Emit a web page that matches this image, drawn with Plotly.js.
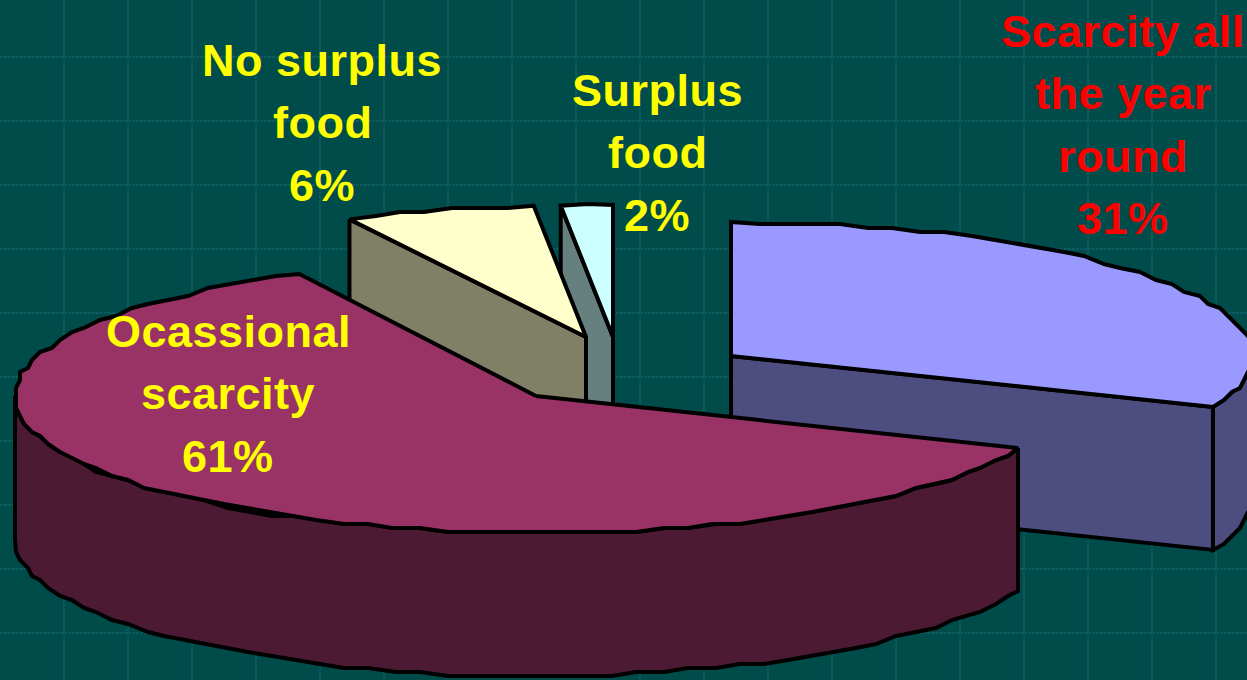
<!DOCTYPE html>
<html>
<head>
<meta charset="utf-8">
<script src="https://cdn.plot.ly/plotly-3.0.1.min.js"></script>
<style>
html,body{margin:0;padding:0;background:#004c4a;overflow:hidden}
#chart{width:1247px;height:680px}
.annotation-text{letter-spacing:0.5px;stroke-width:0.5px}
</style>
</head>
<body>
<div id="chart"></div>
<script>
// Data (clockwise from 12 o'clock)
const categories = ["Scarcity all the year round", "Ocassional scarcity", "No surplus food", "Surplus food"];
const shares = [31.2, 61.3, 5.9, 1.6];
const labelLines = [["Scarcity all", "the year", "round"], ["Ocassional", "scarcity"], ["No surplus", "food"], ["Surplus", "food"]];
const topColors = ["#9999ff", "#993366", "#ffffcc", "#ccffff"];
const wallColors = ["#4d4d80", "#4d1a33", "#808066", "#668080"];
const labelColors = ["#ff0000", "#ffff00", "#ffff00", "#ffff00"];

// Layout of the tilted, exploded pie (pixel-based axis units)
const centres = [[731, 356], [536, 396], [586, 337], [613, 337]];
const radiusX = 521, radiiY = [134, 137, 132, 132], depth = 143;
const labelPos = [[1123, 31], [228, 331], [322, 60], [657, 90]];
const lineStep = 62.5;
const drawOrder = [3, 2, 0, 1];

const total = shares.reduce((a, b) => a + b, 0);
const spans = [];
let running = 0;
shares.forEach(v => { const s = running; running += v; spans.push([s / total * 360, running / total * 360]); });

const rad = d => d * Math.PI / 180;
function pt(i, t, dy) {
  return [centres[i][0] + radiusX * Math.sin(rad(t)), centres[i][1] - radiiY[i] * Math.cos(rad(t)) + (dy || 0)];
}
// The original outline is a coarse, pixel-snapped polygon
function arc(i, t0, t1, dy) {
  const n = Math.max(1, Math.round(Math.abs(t1 - t0) / 3));
  const out = [];
  for (let k = 0; k <= n; k++) {
    const p = pt(i, t0 + (t1 - t0) * k / n, dy);
    if (k === 0 || k === n) out.push(p);
    else out.push([Math.round(p[0] / 4) * 4, Math.round(p[1] / 4) * 4]);
  }
  return out;
}
function poly(points, fill, width) {
  const xs = points.map(p => p[0]).concat(points[0][0]);
  const ys = points.map(p => p[1]).concat(points[0][1]);
  return {x: xs, y: ys, type: "scatter", mode: "lines", fill: "toself", fillcolor: fill,
    line: {color: "#000000", width: width || 4, shape: "linear"}, hoverinfo: "skip", showlegend: false};
}

const traces = [];
drawOrder.forEach(i => {
  const [a, b] = spans[i];
  const c = centres[i];
  const cBottom = [c[0], c[1] + depth];
  if (i === 0) {
    const e = pt(i, b), eb = pt(i, b, depth);
    traces.push(poly([c, e, eb, cBottom], wallColors[i]));
    traces.push(poly(arc(i, 90, b).concat(arc(i, b, 90, depth)), wallColors[i]));
  } else if (i === 1) {
    traces.push(poly(arc(i, a, 270).concat(arc(i, 270, a, depth)), wallColors[i]));
  } else {
    const s = pt(i, a), sb = pt(i, a, depth);
    traces.push(poly([s, c, cBottom, sb], wallColors[i]));
  }
  traces.push(poly([c].concat(arc(i, a, b)), topColors[i]));
});

const annotations = [];
categories.forEach((name, i) => {
  const lines = labelLines[i].concat(Math.round(shares[i]) + "%");
  lines.forEach((txt, k) => {
    annotations.push({x: labelPos[i][0], y: labelPos[i][1] + k * lineStep, xref: "x", yref: "y",
      text: "<b>" + txt + "</b>", showarrow: false, xanchor: "center", yanchor: "middle",
      font: {family: "Liberation Sans, Arial, sans-serif", size: 45, color: labelColors[i]}});
  });
});

const layout = {
  width: 1247, height: 680, margin: {l: 0, r: 0, t: 0, b: 0, pad: 0},
  paper_bgcolor: "#004c4a", plot_bgcolor: "#004c4a", showlegend: false,
  xaxis: {range: [0, 1247], tick0: 0, dtick: 64, showgrid: true, gridcolor: "#0a5c5e", gridwidth: 2, griddash: "3px,1px",
    zeroline: false, showline: false, showticklabels: false, ticks: "", fixedrange: true},
  yaxis: {range: [680, 0], tick0: 57, dtick: 64, showgrid: true, gridcolor: "#0a5c5e", gridwidth: 2, griddash: "3px,1px",
    zeroline: false, showline: false, showticklabels: false, ticks: "", fixedrange: true},
  annotations: annotations
};
Plotly.newPlot("chart", traces, layout, {displayModeBar: false, staticPlot: true});
</script>
</body>
</html>
